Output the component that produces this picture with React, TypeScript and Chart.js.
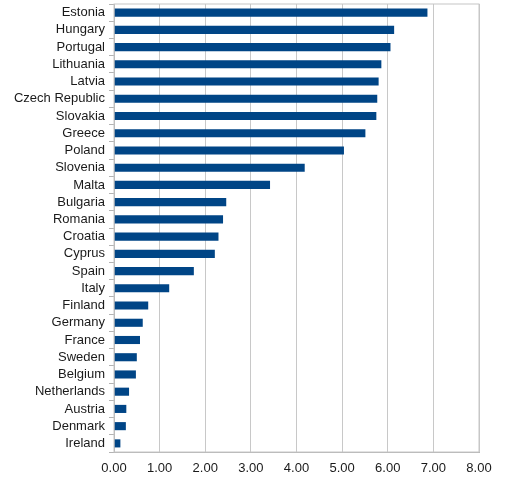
import { useEffect, useRef } from 'react';
import { Chart, registerables } from 'chart.js';

Chart.register(...registerables);

const countries = [
  'Estonia', 'Hungary', 'Portugal', 'Lithuania', 'Latvia', 'Czech Republic', 'Slovakia',
  'Greece', 'Poland', 'Slovenia', 'Malta', 'Bulgaria', 'Romania', 'Croatia', 'Cyprus',
  'Spain', 'Italy', 'Finland', 'Germany', 'France', 'Sweden', 'Belgium', 'Netherlands',
  'Austria', 'Denmark', 'Ireland',
];

const values = [
  6.87, 6.14, 6.06, 5.86, 5.8, 5.77, 5.75,
  5.51, 5.04, 4.18, 3.42, 2.46, 2.39, 2.29, 2.21,
  1.75, 1.21, 0.75, 0.63, 0.57, 0.5, 0.48, 0.33,
  0.27, 0.26, 0.14,
];

const xMin = 0;
const xMax = 8;
const xStep = 1;

// frame around the plot area (top edge is not drawn by the axes)
const frame = {
  id: 'frame',
  afterDraw(chart: Chart) {
    const { ctx, chartArea } = chart;
    ctx.save();
    ctx.strokeStyle = '#c6c6c6';
    ctx.lineWidth = 1;
    ctx.strokeRect(chartArea.left, chartArea.top, chartArea.right - chartArea.left, chartArea.bottom - chartArea.top);
    ctx.restore();
  },
};

export default function App() {
  const canvasRef = useRef<HTMLCanvasElement>(null);
  const chartRef = useRef<Chart | null>(null);

  useEffect(() => {
    if (!canvasRef.current) return;
    if (chartRef.current) chartRef.current.destroy();

    const font = { family: "'Liberation Sans', Arial, sans-serif", size: 13 };

    chartRef.current = new Chart(canvasRef.current, {
      type: 'bar',
      data: {
        labels: countries,
        datasets: [
          {
            data: values,
            backgroundColor: '#004586',
            borderWidth: 0,
            barPercentage: 0.47,
            categoryPercentage: 1,
          },
        ],
      },
      plugins: [frame],
      options: {
        indexAxis: 'y',
        animation: false,
        responsive: true,
        maintainAspectRatio: false,
        layout: { padding: { top: 4, right: 30, left: 0, bottom: 0 } },
        plugins: {
          legend: { display: false },
          tooltip: { enabled: false },
        },
        scales: {
          x: {
            min: xMin,
            max: xMax,
            afterFit: (scale) => {
              scale.height = 42;
            },
            ticks: {
              stepSize: xStep,
              color: '#1a1a1a',
              font,
              padding: 9,
              callback: (v) => Number(v).toFixed(2),
            },
            grid: { color: '#c8c8c8', drawTicks: false },
            border: { color: '#b3b3b3' },
          },
          y: {
            afterFit: (scale: any) => {
              scale.width = 114;
              scale.paddingTop = 0;
              scale.paddingBottom = 0;
            },
            ticks: { color: '#1a1a1a', font, padding: 4, autoSkip: false },
            grid: { drawOnChartArea: false, tickLength: 5, color: '#b3b3b3' },
            border: { color: '#b3b3b3' },
          },
        },
      },
    });

    return () => {
      if (chartRef.current) {
        chartRef.current.destroy();
        chartRef.current = null;
      }
    };
  }, []);

  return (
    <div style={{ position: 'fixed', left: 0, top: 0, width: '509px', height: '494px', background: '#fff' }}>
      <canvas ref={canvasRef} />
    </div>
  );
}
